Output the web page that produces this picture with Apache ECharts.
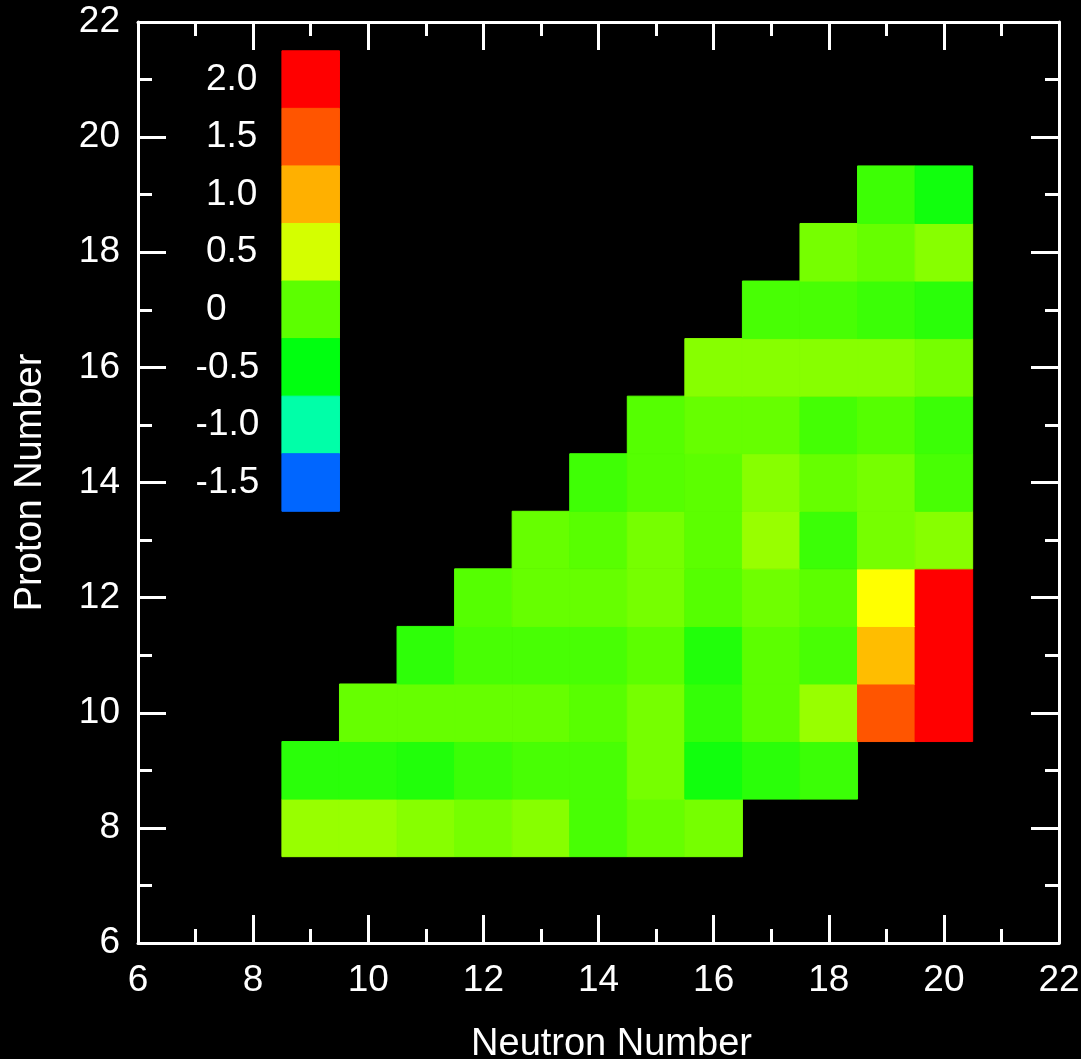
<!DOCTYPE html>
<html>
<head>
<meta charset="utf-8">
<style>
  html, body { margin: 0; padding: 0; background: #000; }
  #chart { width: 1081px; height: 1059px; }
</style>
<script src="https://cdn.jsdelivr.net/npm/echarts@6/dist/echarts.min.js"></script>
</head>
<body>
<div id="chart"></div>
<script>
// one row per proton number, values start at firstNeutron
const protonNumbers = [8, 9, 10, 11, 12, 13, 14, 15, 16, 17, 18, 19]
const firstNeutron = [9, 9, 10, 11, 12, 13, 14, 15, 16, 17, 18, 19]
const rowZ8 = [0.25, 0.25, 0.18, 0.11, 0.18, -0.11, 0.04, 0.11]
const rowZ9 = [-0.27, -0.27, -0.32, -0.18, -0.11, -0.11, 0.11, -0.41, -0.27, -0.18]
const rowZ10 = [0.04, 0.04, 0.04, 0.04, -0.02, 0.11, -0.22, 0, 0.25, 1.5, 2.2]
const rowZ11 = [-0.25, -0.11, -0.11, -0.11, 0, -0.32, 0, -0.11, 0.96, 2.3]
const rowZ12 = [-0.04, 0.04, 0.04, 0.11, -0.04, 0.08, 0, 0.75, 2.4]
const rowZ13 = [0.04, -0.02, 0.11, 0, 0.25, -0.18, 0.11, 0.18]
const rowZ14 = [-0.16, -0.04, 0, 0.18, 0.04, 0.11, -0.11]
const rowZ15 = [-0.04, 0.04, 0.04, -0.13, -0.04, -0.18]
const rowZ16 = [0.18, 0.18, 0.18, 0.18, 0.11]
const rowZ17 = [-0.11, -0.11, -0.18, -0.27]
const rowZ18 = [0.11, 0.04, 0.18]
const rowZ19 = [-0.17, -0.41]
const rows = [rowZ8, rowZ9, rowZ10, rowZ11, rowZ12, rowZ13, rowZ14, rowZ15, rowZ16, rowZ17, rowZ18, rowZ19]

// colour key drawn inside the plot, column N=9 from Z=21 down
const keyValues = [2.0, 1.5, 1.0, 0.5, 0, -0.5, -1.0, -1.5]
const keyLabels = ['2.0', '1.5', '1.0', '0.5', '0', '-0.5', '-1.0', '-1.5']
const keyNeutron = 9
const keyTopProton = 21

const cells = []
rows.forEach((row, i) => {
  row.forEach((v, j) => {
    cells.push([firstNeutron[i] + j, protonNumbers[i], v])
  })
})
const keyCells = keyValues.map((v, i) => [keyNeutron, keyTopProton - i, v])
const keyText = keyValues.map((v, i) => [v < 0 ? 7.0 : 7.18, keyTopProton - i, keyLabels[i]])

const font = 'Liberation Sans, Helvetica, Arial, sans-serif'

function renderCell (params, api) {
  const n = api.value(0)
  const z = api.value(1)
  const p0 = api.coord([n - 0.5, z + 0.5])
  const p1 = api.coord([n + 0.5, z - 0.5])
  const c = api.visual('color')
  return {
    type: 'rect',
    shape: { x: p0[0], y: p0[1], width: p1[0] - p0[0], height: p1[1] - p0[1] },
    style: { fill: c, stroke: c, lineWidth: 1 }
  }
}

function axis (pos, showLabel) {
  return {
    type: 'value',
    position: pos,
    min: 6,
    max: 22,
    interval: 2,
    axisLine: { show: true, onZero: false, lineStyle: { color: '#fff', width: 3 } },
    axisTick: { show: true, inside: true, length: 28, lineStyle: { color: '#fff', width: 3 } },
    minorTick: { show: true, splitNumber: 2, length: 14, lineStyle: { color: '#fff', width: 3 } },
    splitLine: { show: false },
    axisLabel: { show: showLabel, color: '#fff', fontSize: 37, fontFamily: font, margin: 18 }
  }
}

const chart = echarts.init(document.getElementById('chart'))
const xBottom = axis('bottom', true)
xBottom.axisLabel.margin = 19
xBottom.name = 'Neutron Number'
xBottom.nameLocation = 'middle'
xBottom.nameGap = 83
xBottom.nameTextStyle = { color: '#fff', fontSize: 38, fontFamily: font, padding: [0, 0, 0, 26] }
const yLeft = axis('left', true)
yLeft.name = 'Proton Number'
yLeft.nameLocation = 'middle'
yLeft.nameGap = 88
yLeft.nameTextStyle = { color: '#fff', fontSize: 38, fontFamily: font }

chart.setOption({
  backgroundColor: '#000',
  animation: false,
  grid: { left: 138, top: 22, width: 921, height: 921, outerBoundsMode: 'none', containLabel: false },
  xAxis: [xBottom, axis('top', false)],
  yAxis: [yLeft, axis('right', false)],
  visualMap: {
    show: false,
    type: 'continuous',
    min: -1.5,
    max: 2.0,
    dimension: 2,
    seriesIndex: [0, 1],
    inRange: {
      color: ['#0066ff', '#00b2d4', '#00ffa8', '#00ff5c', '#00ff10', '#2eff08', '#5cff00', '#98ff00',
        '#d4ff00', '#ffff00', '#ffb000', '#ff8200', '#ff5500', '#ff2a00', '#ff0000']
    }
  },
  series: [
    {
      type: 'custom',
      renderItem: renderCell,
      encode: { x: 0, y: 1 },
      data: cells
    },
    {
      type: 'custom',
      renderItem: renderCell,
      encode: { x: 0, y: 1 },
      data: keyCells
    },
    {
      type: 'scatter',
      symbolSize: 0,
      itemStyle: { opacity: 1 },
      data: keyText,
      label: {
        show: true,
        position: 'right',
        distance: 0,
        color: '#fff',
        opacity: 1,
        fontSize: 37,
        fontFamily: font,
        formatter: function (p) { return p.data[2] }
      }
    }
  ]
})
</script>
</body>
</html>
